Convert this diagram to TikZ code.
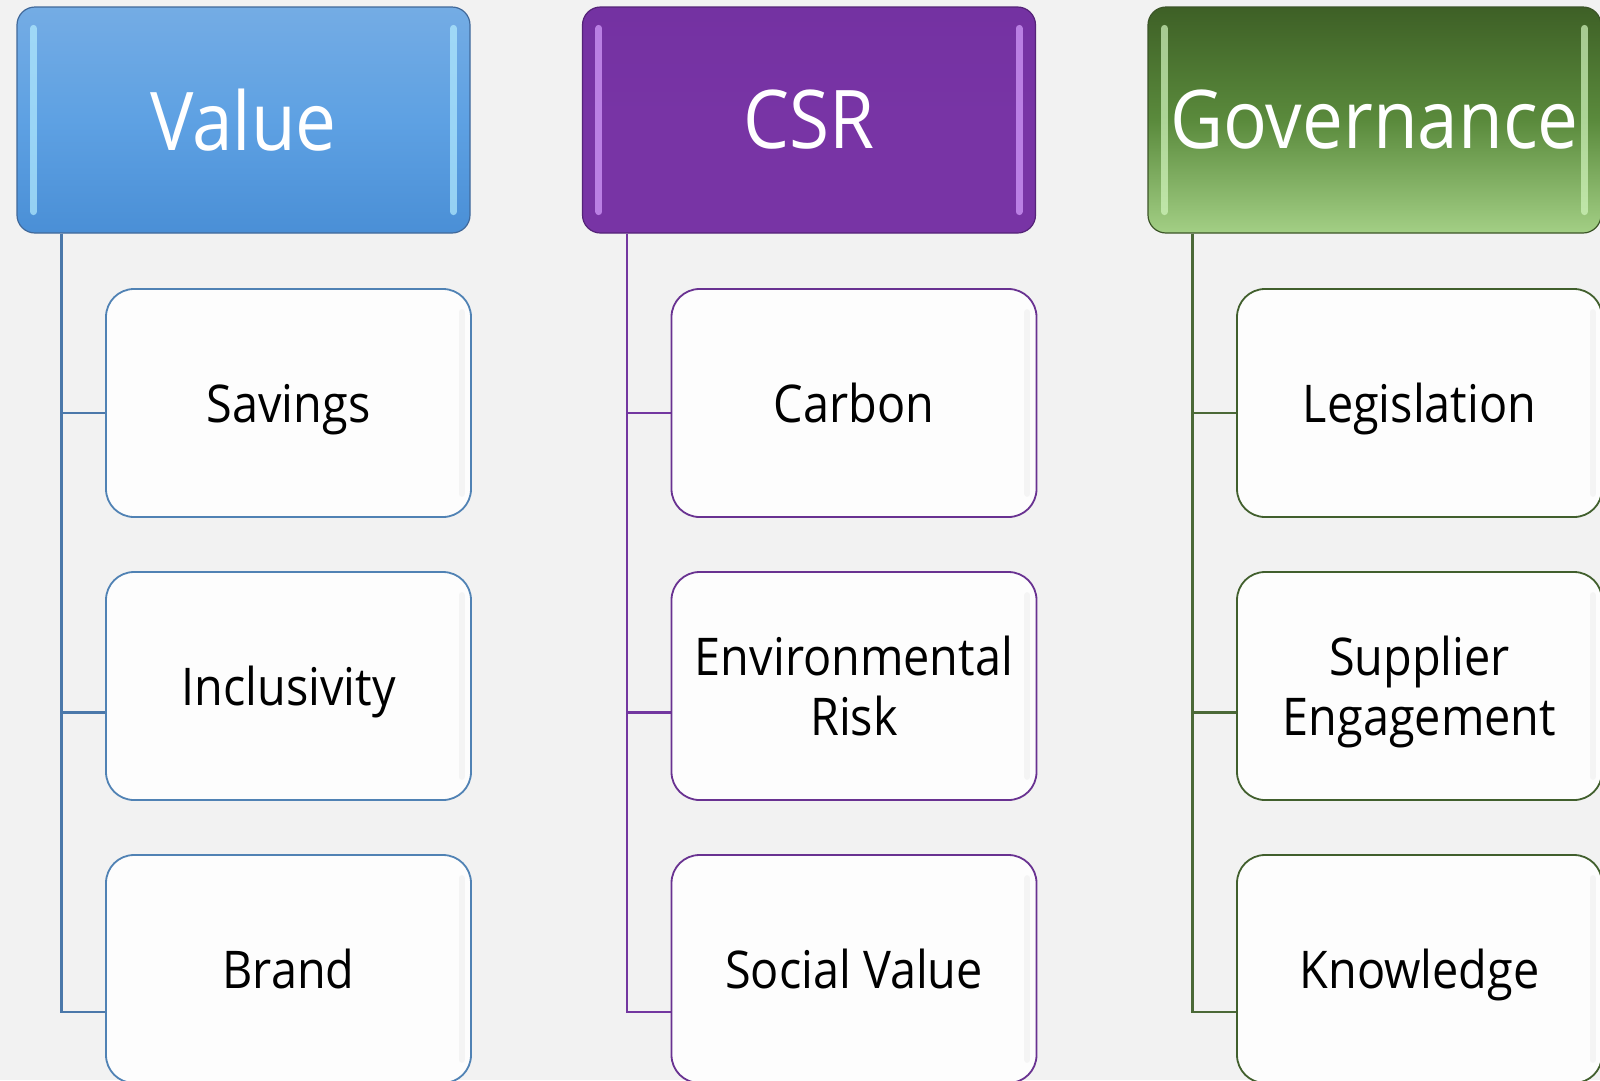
\documentclass[tikz,border=0pt]{standalone}
\usepackage{fontspec}
\setmainfont{Open Sans}[FakeStretch=0.9]

\definecolor{pagebg}{HTML}{F2F2F2}
\definecolor{itemfill}{HTML}{FDFDFD}
\definecolor{itemshade}{HTML}{E6E6E6}
\definecolor{headtop0}{HTML}{74ACE4}
\definecolor{headmid0}{HTML}{5EA1E3}
\definecolor{headbot0}{HTML}{4A8FD6}
\definecolor{headedge0}{HTML}{41699A}
\definecolor{headrim0}{HTML}{B4ECFF}
\definecolor{headtop1}{HTML}{7432A2}
\definecolor{headmid1}{HTML}{7834A5}
\definecolor{headbot1}{HTML}{7834A5}
\definecolor{headedge1}{HTML}{552378}
\definecolor{headrim1}{HTML}{D7A0FF}
\definecolor{headtop2}{HTML}{3E6026}
\definecolor{headmid2}{HTML}{5A8A3C}
\definecolor{headbot2}{HTML}{A3CF85}
\definecolor{headedge2}{HTML}{3C5528}
\definecolor{headrim2}{HTML}{D2F5BE}
\definecolor{itemedge0}{HTML}{5082B4}
\definecolor{itemedge1}{HTML}{693291}
\definecolor{itemedge2}{HTML}{415F2D}
\definecolor{linkcol0}{HTML}{4B78AA}
\definecolor{linkcol1}{HTML}{7337A0}
\definecolor{linkcol2}{HTML}{4B6937}

\tikzset{head_box/.style={rectangle, rounded corners=18pt, minimum width=453pt, minimum height=226pt, inner sep=0pt, line width=1.2pt, text=white, font=\fontsize{81}{97}\selectfont}}
\tikzset{item_box/.style={rectangle, rounded corners=28pt, minimum width=365pt, minimum height=228pt, inner sep=0pt, text depth=0pt, fill=itemfill, line width=1.8pt, align=center, font=\fontsize{52}{60}\selectfont}}
\tikzset{rim_glow/.style={line width=7pt, line cap=round, opacity=0.7}}
\tikzset{item_rim/.style={itemshade, line width=6pt, line cap=round, opacity=0.35}}
\tikzset{link_line/.style={line width=2.4pt}}

\begin{document}
\begin{tikzpicture}[x=1pt, y=-1pt]
    \clip (0,0) rectangle (1600,1080);
    \fill[pagebg] (0,0) rectangle (1600,1080);

    \foreach \i/\title in {0/Value,1/CSR,2/Governance}{
      \node[head_box, top color=headtop\i, bottom color=headbot\i, middle color=headmid\i, draw=headedge\i] (head\i) at (243.5+565.5*\i,120) {\title};
      \draw[rim_glow, headrim\i] ([xshift=17pt,yshift=-22pt]head\i.north west) -- ([xshift=17pt,yshift=22pt]head\i.south west);
      \draw[rim_glow, headrim\i] ([xshift=-17pt,yshift=-22pt]head\i.north east) -- ([xshift=-17pt,yshift=22pt]head\i.south east);
      \coordinate (trunk\i) at ([xshift=45pt]head\i.south west);
    }

    \foreach \i/\j/\name in {0/0/Savings, 0/1/Inclusivity, 0/2/Brand,
                             1/0/Carbon, 1/1/{Environmental\\Risk}, 1/2/Social Value,
                             2/0/Legislation, 2/1/{Supplier\\Engagement}, 2/2/Knowledge}{
      \draw[link_line, linkcol\i] (trunk\i) |- ([yshift={-10pt-16.5pt*\j}]288.5+565.5*\i,403+283*\j) coordinate (tap\i-\j);
      \node[item_box, draw=itemedge\i] (item\i-\j) at (288.5+565.5*\i,403+283*\j) {\name};
      \draw[item_rim] ([xshift=-10pt,yshift=-24pt]item\i-\j.north east) -- ([xshift=-10pt,yshift=24pt]item\i-\j.south east);
    }
  \end{tikzpicture}
\end{document}
